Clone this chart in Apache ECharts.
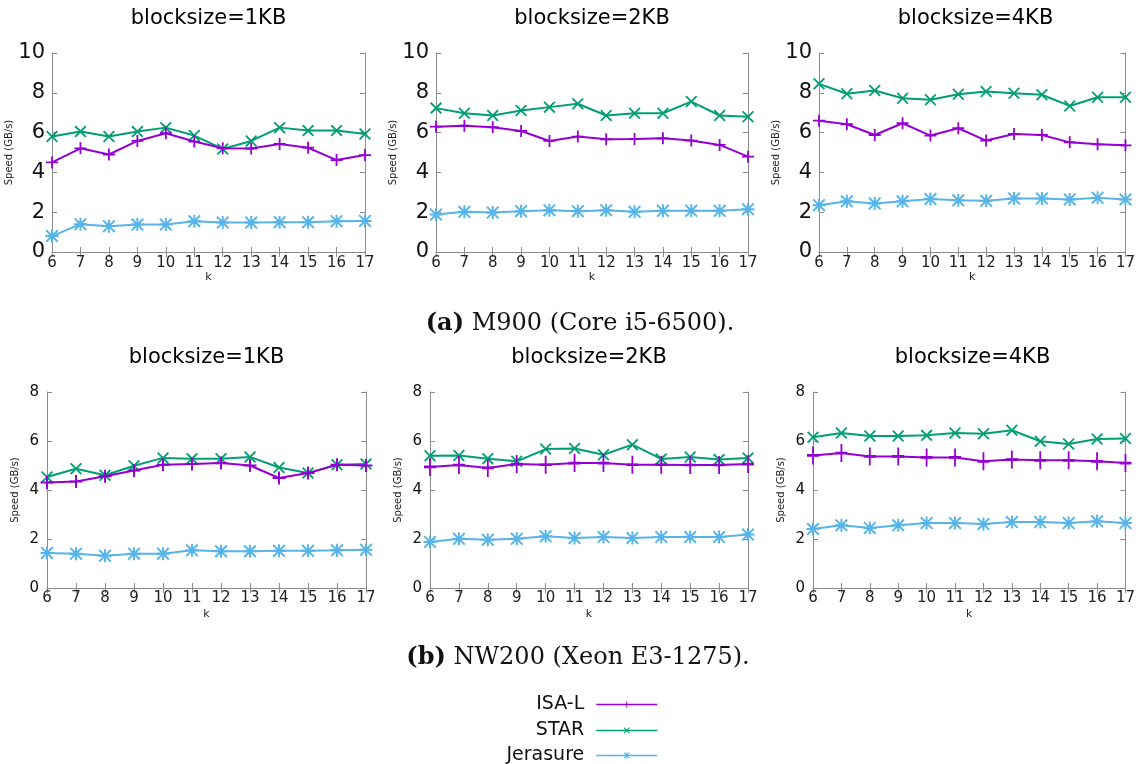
<!DOCTYPE html>
<html lang="en">
  <head>
    <meta charset="UTF-8" />
    <title>Erasure coding speed</title>
    <style type="text/css">
      body {
        margin: 0;
        background-color: #fff;
      }

      #main {
        width: 1138px;
        height: 764px;
      }
    </style>
  </head>
  <body>
    <div id="main"></div>
    <script src="https://cdn.jsdelivr.net/npm/echarts@6/dist/echarts.min.js"></script>
    <script type="text/javascript">
      var ks = [6, 7, 8, 9, 10, 11, 12, 13, 14, 15, 16, 17];

      // (a) M900 (Core i5-6500)
      var m900_1k_isal = [4.5, 5.21, 4.9, 5.58, 5.97, 5.55, 5.21, 5.2, 5.43, 5.24, 4.62, 4.87];
      var m900_1k_star = [5.8, 6.05, 5.8, 6.05, 6.25, 5.85, 5.18, 5.58, 6.25, 6.1, 6.1, 5.93];
      var m900_1k_jer = [0.8, 1.4, 1.3, 1.38, 1.38, 1.55, 1.48, 1.48, 1.5, 1.5, 1.55, 1.56];

      var m900_2k_isal = [6.3, 6.35, 6.27, 6.08, 5.58, 5.8, 5.66, 5.68, 5.71, 5.6, 5.38, 4.79];
      var m900_2k_star = [7.23, 6.97, 6.86, 7.11, 7.28, 7.45, 6.86, 6.97, 6.97, 7.56, 6.86, 6.8];
      var m900_2k_jer = [1.88, 2.02, 1.98, 2.05, 2.1, 2.05, 2.1, 2.02, 2.07, 2.07, 2.07, 2.15];

      var m900_4k_isal = [6.6, 6.42, 5.88, 6.47, 5.85, 6.22, 5.6, 5.93, 5.88, 5.51, 5.41, 5.36];
      var m900_4k_star = [8.45, 7.95, 8.12, 7.73, 7.65, 7.93, 8.07, 7.98, 7.9, 7.34, 7.78, 7.78];
      var m900_4k_jer = [2.35, 2.55, 2.44, 2.55, 2.66, 2.6, 2.57, 2.69, 2.69, 2.64, 2.72, 2.64];

      // (b) NW200 (Xeon E3-1275)
      var nw200_1k_isal = [4.31, 4.35, 4.56, 4.8, 5.03, 5.06, 5.1, 5.0, 4.49, 4.69, 5.03, 5.0];
      var nw200_1k_star = [4.53, 4.87, 4.6, 4.99, 5.31, 5.28, 5.28, 5.35, 4.92, 4.69, 5.03, 5.06];
      var nw200_1k_jer = [1.43, 1.4, 1.32, 1.4, 1.4, 1.54, 1.5, 1.5, 1.52, 1.52, 1.54, 1.56];

      var nw200_2k_isal = [4.94, 5.02, 4.9, 5.06, 5.03, 5.1, 5.1, 5.03, 5.03, 5.02, 5.02, 5.06];
      var nw200_2k_star = [5.4, 5.41, 5.28, 5.17, 5.67, 5.69, 5.44, 5.85, 5.27, 5.35, 5.24, 5.31];
      var nw200_2k_jer = [1.88, 2.01, 1.97, 2.01, 2.11, 2.04, 2.08, 2.04, 2.08, 2.08, 2.08, 2.18];

      var nw200_4k_isal = [5.41, 5.51, 5.37, 5.37, 5.33, 5.33, 5.17, 5.24, 5.21, 5.21, 5.17, 5.1];
      var nw200_4k_star = [6.15, 6.33, 6.2, 6.2, 6.23, 6.33, 6.3, 6.44, 5.99, 5.88, 6.08, 6.1];
      var nw200_4k_jer = [2.41, 2.56, 2.45, 2.56, 2.65, 2.65, 2.61, 2.69, 2.69, 2.65, 2.72, 2.65];

      var seriesNames = ["ISA-L", "STAR", "Jerasure"];
      var colors = ["#9400d3", "#009e73", "#56b4e9"];

      // gnuplot point types: +, x, *
      var plusPath = "M8.5,0H11.5V8.5H20V11.5H11.5V20H8.5V11.5H0V8.5H8.5Z";
      var crossPath =
        "M0,2.12L2.12,0L10,7.88L17.88,0L20,2.12L12.12,10L20,17.88L17.88,20L10,12.12L2.12,20L0,17.88L7.88,10Z";
      var symbols = [
        "path://" + plusPath,
        "path://" + crossPath,
        "path://" + plusPath + crossPath,
      ];

      var panels = [
        { title: "blocksize=1KB", data: [m900_1k_isal, m900_1k_star, m900_1k_jer], row: 0,
          box: [52, 53, 313, 199], plus: 12 },
        { title: "blocksize=2KB", data: [m900_2k_isal, m900_2k_star, m900_2k_jer], row: 0,
          box: [436, 53, 312, 199], plus: 12 },
        { title: "blocksize=4KB", data: [m900_4k_isal, m900_4k_star, m900_4k_jer], row: 0,
          box: [819, 53, 313, 199], plus: 12 },
        { title: "blocksize=1KB", data: [nw200_1k_isal, nw200_1k_star, nw200_1k_jer], row: 1,
          box: [47, 392, 319, 196], plus: 13 },
        { title: "blocksize=2KB", data: [nw200_2k_isal, nw200_2k_star, nw200_2k_jer], row: 1,
          box: [430, 392, 318, 196], plus: [12, 18] },
        { title: "blocksize=4KB", data: [nw200_4k_isal, nw200_4k_star, nw200_4k_jer], row: 1,
          box: [813, 392, 319, 196], plus: [12, 18] },
      ];

      var font = "DejaVu Sans";
      var boxColor = "#8c8c8c";

      var grids = [], xAxes = [], yAxes = [], series = [], titles = [];

      panels.forEach(function (p, i) {
        var top = p.row === 0;
        grids.push({ left: p.box[0], top: p.box[1], width: p.box[2], height: p.box[3] });

        titles.push({
          text: p.title,
          left: p.box[0] + p.box[2] / 2,
          top: top ? 8 : 347,
          textAlign: "center",
          padding: 0,
          textStyle: { fontFamily: font, fontSize: 21, fontWeight: "normal", color: "#000" },
        });

        var lineCfg = { show: true, lineStyle: { color: boxColor, width: 1 } };
        var tickCfg = { show: true, inside: true, length: 5, lineStyle: { color: boxColor } };

        xAxes.push({
          gridIndex: i, type: "value", min: 6, max: 17, interval: 1,
          axisLine: lineCfg, axisTick: tickCfg, splitLine: { show: false },
          axisLabel: { fontFamily: font, fontSize: 15, color: "#222", margin: top ? 4 : 3 },
          name: "k", nameLocation: "middle", nameGap: top ? 19 : 21,
          nameTextStyle: { fontFamily: font, fontSize: 11, color: "#222" },
        });
        xAxes.push({
          gridIndex: i, type: "value", min: 6, max: 17, interval: 1, position: "top",
          axisLine: lineCfg, axisTick: tickCfg, splitLine: { show: false },
          axisLabel: { show: false },
        });

        yAxes.push({
          gridIndex: i, type: "value", min: 0, max: top ? 10 : 8, interval: 2,
          axisLine: lineCfg, axisTick: tickCfg, splitLine: { show: false },
          axisLabel: { fontFamily: font, fontSize: top ? 21 : 15, color: "#111", margin: top ? 7 : 8 },
          name: "Speed (GB/s)", nameLocation: "middle", nameGap: top ? 31 : 27,
          nameTextStyle: { fontFamily: font, fontSize: 10, color: "#222" },
        });
        yAxes.push({
          gridIndex: i, type: "value", min: 0, max: top ? 10 : 8, interval: 2, position: "right",
          axisLine: lineCfg, axisTick: tickCfg, splitLine: { show: false },
          axisLabel: { show: false },
        });

        var sizes = [p.plus, 12, 13];
        p.data.forEach(function (vals, s) {
          series.push({
            name: seriesNames[s],
            type: "line",
            xAxisIndex: 2 * i,
            yAxisIndex: 2 * i,
            data: ks.map(function (k, j) { return [k, vals[j]]; }),
            symbol: symbols[s],
            symbolSize: sizes[s],
            clip: false,
            z: 3 - s,
            lineStyle: { color: colors[s], width: 2 },
            itemStyle: { color: colors[s] },
          });
        });
      });

      titles.push({
        text: "{b|(a)} M900 (Core i5-6500).",
        left: 580, top: 312, textAlign: "center", padding: 0,
        textStyle: {
          fontFamily: "DejaVu Serif", fontSize: 24, fontWeight: "normal", color: "#111",
          rich: { b: { fontFamily: "DejaVu Serif", fontSize: 24, fontWeight: "bold", color: "#111" } },
        },
      });
      titles.push({
        text: "{b|(b)} NW200 (Xeon E3-1275).",
        left: 578, top: 646, textAlign: "center", padding: 0,
        textStyle: {
          fontFamily: "DejaVu Serif", fontSize: 24, fontWeight: "normal", color: "#111",
          rich: { b: { fontFamily: "DejaVu Serif", fontSize: 24, fontWeight: "bold", color: "#111" } },
        },
      });

      var legendTops = [695, 721, 746];
      var legends = seriesNames.map(function (n, s) {
        return {
          data: [n],
          right: 480,
          top: legendTops[s],
          align: "right",
          itemWidth: 61,
          itemHeight: 8,
          padding: 0,
          selectedMode: false,
          lineStyle: { width: 1.5 },
          textStyle: { fontFamily: font, fontSize: 19, color: "#111", padding: [0, 7, 0, 0] },
        };
      });

      var chart = echarts.init(document.getElementById("main"));
      chart.setOption({
        animation: false,
        backgroundColor: "#fff",
        title: titles,
        legend: legends,
        grid: grids,
        xAxis: xAxes,
        yAxis: yAxes,
        series: series,
      });
    </script>
  </body>
</html>
